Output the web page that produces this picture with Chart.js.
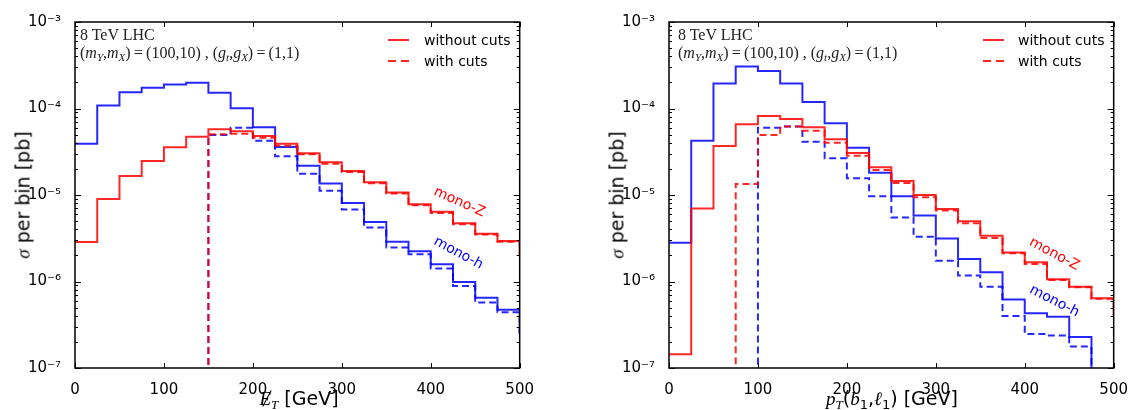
<!DOCTYPE html>
<html>
<head>
<meta charset="utf-8">
<script src="https://cdn.jsdelivr.net/npm/chart.js@4.4.1/dist/chart.umd.min.js"></script>
<style>
  html, body { margin: 0; padding: 0; background: #fff; width: 1133px; height: 410px; overflow: hidden; }
  body { position: relative; font-family: "DejaVu Sans", sans-serif; }
  canvas { position: absolute; top: 0; }
  .txt { position: absolute; white-space: nowrap; line-height: 1; }
  .info { font-family: "Liberation Serif", serif; font-size: 16px; color: #222; }
  .info sub { font-size: 11px; vertical-align: -3px; line-height: 0; }
  .leg { font-size: 14px; color: #000; }
  .swatch { position: absolute; width: 21px; height: 2px; }
  .solid { background: rgba(255,0,0,0.85); }
  .dashed { background: repeating-linear-gradient(90deg, rgba(255,0,0,0.85) 0 8px, transparent 8px 13px); }
  .mono { font-size: 14px; transform: translate(-50%, -50%); }
  .ytitle { font-size: 19px; transform: translate(-50%, -50%) rotate(-90deg); }
  .xtitle { font-size: 19px; transform: translate(-50%, -50%); }
  .m { font-family: "Liberation Serif", serif; font-style: italic; }
  .xtitle sub { font-size: 13px; vertical-align: -4px; line-height: 0; }
  .slash { position: absolute; left: 7px; top: 1px; width: 1.2px; height: 18px; background: #000; transform: rotate(28deg); }
</style>
</head>
<body>
<canvas id="left" width="539" height="410" style="left:0"></canvas>
<canvas id="right" width="539" height="410" style="left:594px"></canvas>

<!-- info boxes -->
<div class="txt info" style="left:80px; top:27px">8 TeV LHC</div>
<div class="txt info" style="left:80px; top:45px">(<i>m</i><sub><i>Y</i></sub>,<i>m</i><sub><i>X</i></sub>)&thinsp;=&thinsp;(100,10) , (<i>g</i><sub><i>t</i></sub>,<i>g</i><sub><i>X</i></sub>)&thinsp;=&thinsp;(1,1)</div>
<div class="txt info" style="left:678px; top:27px">8 TeV LHC</div>
<div class="txt info" style="left:678px; top:45px">(<i>m</i><sub><i>Y</i></sub>,<i>m</i><sub><i>X</i></sub>)&thinsp;=&thinsp;(100,10) , (<i>g</i><sub><i>t</i></sub>,<i>g</i><sub><i>X</i></sub>)&thinsp;=&thinsp;(1,1)</div>

<!-- legends -->
<div class="swatch solid" style="left:388px; top:39px"></div>
<div class="txt leg" style="left:424px; top:33px">without cuts</div>
<div class="swatch dashed" style="left:388px; top:60px"></div>
<div class="txt leg" style="left:424px; top:54px">with cuts</div>
<div class="swatch solid" style="left:983px; top:39px"></div>
<div class="txt leg" style="left:1018px; top:33px">without cuts</div>
<div class="swatch dashed" style="left:983px; top:60px"></div>
<div class="txt leg" style="left:1018px; top:54px">with cuts</div>

<!-- curve labels -->
<div class="txt mono" style="left:460px; top:201px; color:#f00; transform:translate(-50%,-50%) rotate(24deg)">mono-Z</div>
<div class="txt mono" style="left:459px; top:252px; color:#00f; transform:translate(-50%,-50%) rotate(28deg)">mono-h</div>
<div class="txt mono" style="left:1055px; top:253px; color:#f00; transform:translate(-50%,-50%) rotate(28deg)">mono-Z</div>
<div class="txt mono" style="left:1055px; top:300px; color:#00f; transform:translate(-50%,-50%) rotate(27deg)">mono-h</div>

<!-- axis titles -->
<div class="txt ytitle" style="left:23px; top:195px"><span class="m">σ</span> per bin [pb]</div>
<div class="txt ytitle" style="left:617px; top:195px"><span class="m">σ</span> per bin [pb]</div>
<div class="txt xtitle" style="left:299px; top:398px"><span style="position:relative; display:inline-block"><span class="m">E</span><span class="slash"></span></span><sub class="m">T</sub> [GeV]</div>
<div class="txt xtitle" style="left:892px; top:398px"><span class="m">p</span><sub class="m">T</sub>(<span class="m">b</span><sub>1</sub>,<span class="m">ℓ</span><sub>1</sub>) [GeV]</div>

<script>
// bin edges in GeV (last bin 500-525 lies outside the axis and is clipped)
const binEdges = [0, 25, 50, 75, 100, 125, 150, 175, 200, 225, 250, 275, 300, 325, 350, 375, 400, 425, 450, 475, 500, 525];
const xTicks = [0, 100, 200, 300, 400, 500];
const yTicks = [1e-7, 2e-7, 3e-7, 4e-7, 5e-7, 6e-7, 7e-7, 8e-7, 9e-7,
                1e-6, 2e-6, 3e-6, 4e-6, 5e-6, 6e-6, 7e-6, 8e-6, 9e-6,
                1e-5, 2e-5, 3e-5, 4e-5, 5e-5, 6e-5, 7e-5, 8e-5, 9e-5,
                1e-4, 2e-4, 3e-4, 4e-4, 5e-4, 6e-4, 7e-4, 8e-4, 9e-4, 1e-3];

// left panel: missing ET
const metMonoH = [3.9e-5, 1.08e-4, 1.54e-4, 1.74e-4, 1.9e-4, 1.99e-4, 1.52e-4, 1.01e-4, 6.07e-5, 3.6e-5, 2.18e-5, 1.36e-5, 8.1e-6, 4.87e-6, 2.88e-6, 2.23e-6, 1.58e-6, 9.9e-7, 6.5e-7, 4.7e-7, 2.5e-7];
const metMonoHCuts = [0, 0, 0, 0, 0, 0, 4.95e-5, 6.0e-5, 4.25e-5, 2.8e-5, 1.76e-5, 1.12e-5, 6.8e-6, 4.2e-6, 2.48e-6, 2.06e-6, 1.41e-6, 8.9e-7, 5.7e-7, 4.4e-7, 2.3e-7];
const metMonoZ = [2.86e-6, 9.0e-6, 1.66e-5, 2.47e-5, 3.56e-5, 4.72e-5, 5.75e-5, 5.45e-5, 4.8e-5, 3.9e-5, 3.03e-5, 2.39e-5, 1.9e-5, 1.4e-5, 1.07e-5, 7.8e-6, 6.4e-6, 4.7e-6, 3.57e-6, 2.94e-6, 2.1e-6];
const metMonoZCuts = [0, 0, 0, 0, 0, 0, 5.05e-5, 5.1e-5, 4.6e-5, 3.7e-5, 2.95e-5, 2.3e-5, 1.85e-5, 1.37e-5, 1.04e-5, 7.6e-6, 6.2e-6, 4.6e-6, 3.5e-6, 2.88e-6, 2.0e-6];

// right panel: pT(b1, l1)
const ptMonoH = [2.8e-6, 4.25e-5, 1.95e-4, 3.05e-4, 2.72e-4, 1.95e-4, 1.19e-4, 6.75e-5, 3.52e-5, 1.81e-5, 9.7e-6, 5.8e-6, 3.15e-6, 1.82e-6, 1.28e-6, 6.2e-7, 4.3e-7, 3.9e-7, 2.28e-7, 0, 0];
const ptMonoHCuts = [0, 0, 0, 0, 6.0e-5, 6.2e-5, 4.13e-5, 2.66e-5, 1.56e-5, 9.7e-6, 5.5e-6, 3.3e-6, 1.74e-6, 1.17e-6, 8.7e-7, 4.0e-7, 2.47e-7, 2.37e-7, 1.77e-7, 0, 0];
const ptMonoZ = [1.44e-7, 7.0e-6, 3.68e-5, 6.56e-5, 8.2e-5, 7.57e-5, 6.07e-5, 4.4e-5, 3.06e-5, 2.09e-5, 1.45e-5, 1.0e-5, 6.9e-6, 4.97e-6, 3.39e-6, 2.17e-6, 1.67e-6, 1.06e-6, 8.7e-7, 6.4e-7, 4.1e-7];
const ptMonoZCuts = [0, 0, 0, 1.34e-5, 4.94e-5, 6.2e-5, 5.53e-5, 4.02e-5, 2.84e-5, 1.95e-5, 1.38e-5, 9.4e-6, 6.6e-6, 4.7e-6, 3.18e-6, 2.12e-6, 1.59e-6, 1.04e-6, 8.6e-7, 6.3e-7, 4.0e-7];

const RED = 'rgba(255,0,0,0.85)';
const BLUE = 'rgba(0,0,255,0.85)';
const EMPTY_BIN = 1e-10; // empty bins sit far below the log axis, like matplotlib clipping

// histogram -> step points (value of bin i starts at edge i)
function stepPoints(values) {
  const pts = values.map((v, i) => ({ x: binEdges[i], y: v > 0 ? v : EMPTY_BIN }));
  const last = values[values.length - 1];
  pts.push({ x: binEdges[values.length], y: last > 0 ? last : EMPTY_BIN });
  return pts;
}

const SUP = { '-': '⁻', '0': '⁰', '1': '¹', '2': '²', '3': '³', '4': '⁴', '5': '⁵', '6': '⁶', '7': '⁷', '8': '⁸', '9': '⁹' };
function powLabel(v) {
  const e = Math.log10(v);
  const r = Math.round(e);
  if (Math.abs(e - r) > 1e-6) return '';
  return '10' + String(r).split('').map(c => SUP[c]).join('');
}

// inward ticks on all four sides plus the box
const frameTicks = {
  id: 'frameTicks',
  afterDatasetsDraw(chart) {
    const { ctx, chartArea: a, scales: { x, y } } = chart;
    ctx.save();
    ctx.strokeStyle = '#000';
    ctx.lineWidth = 1;
    ctx.beginPath();
    y.ticks.forEach(t => {
      const py = Math.round(y.getPixelForValue(t.value)) + 0.5;
      const len = powLabel(t.value) ? 6 : 3;
      ctx.moveTo(a.left, py); ctx.lineTo(a.left + len, py);
      ctx.moveTo(a.right, py); ctx.lineTo(a.right - len, py);
    });
    x.ticks.forEach(t => {
      const px = Math.round(x.getPixelForValue(t.value)) + 0.5;
      ctx.moveTo(px, a.bottom); ctx.lineTo(px, a.bottom - 5);
      ctx.moveTo(px, a.top); ctx.lineTo(px, a.top + 5);
    });
    ctx.stroke();
    ctx.lineWidth = 1.5;
    ctx.strokeRect(a.left, a.top, a.right - a.left, a.bottom - a.top);
    ctx.restore();
  }
};

function makeChart(id, monoH, monoHCuts, monoZ, monoZCuts) {
  const line = (label, data, color, dashed) => ({
    label,
    data: stepPoints(data),
    borderColor: color,
    borderWidth: 2,
    borderDash: dashed ? [7, 4] : [],
    pointRadius: 0,
    stepped: 'before',
    fill: false
  });
  return new Chart(document.getElementById(id), {
    type: 'line',
    data: {
      datasets: [
        line('mono-Z with cuts', monoZCuts, RED, true),
        line('mono-Z without cuts', monoZ, RED, false),
        line('mono-h with cuts', monoHCuts, BLUE, true),
        line('mono-h without cuts', monoH, BLUE, false)
      ]
    },
    options: {
      responsive: false,
      animation: false,
      layout: { padding: { left: 0, top: 22, right: 16, bottom: 0 } },
      plugins: { legend: { display: false }, tooltip: { enabled: false } },
      scales: {
        x: {
          type: 'linear', min: 0, max: 500,
          grid: { display: false }, border: { display: false },
          afterBuildTicks: s => { s.ticks = xTicks.map(v => ({ value: v })); },
          afterFit: s => { s.height = 42; },
          ticks: { color: '#000', font: { family: 'DejaVu Sans', size: 15 }, padding: 5, maxRotation: 0, autoSkip: false }
        },
        y: {
          type: 'logarithmic', min: 1e-7, max: 1e-3,
          grid: { display: false }, border: { display: false },
          afterBuildTicks: s => { s.ticks = yTicks.map(v => ({ value: v })); },
          afterFit: s => { s.width = 75; },
          ticks: { color: '#000', font: { family: 'DejaVu Sans', size: 15 }, padding: 6, autoSkip: false, callback: v => powLabel(v) }
        }
      }
    },
    plugins: [frameTicks]
  });
}

makeChart('left', metMonoH, metMonoHCuts, metMonoZ, metMonoZCuts);
makeChart('right', ptMonoH, ptMonoHCuts, ptMonoZ, ptMonoZCuts);
</script>
</body>
</html>
